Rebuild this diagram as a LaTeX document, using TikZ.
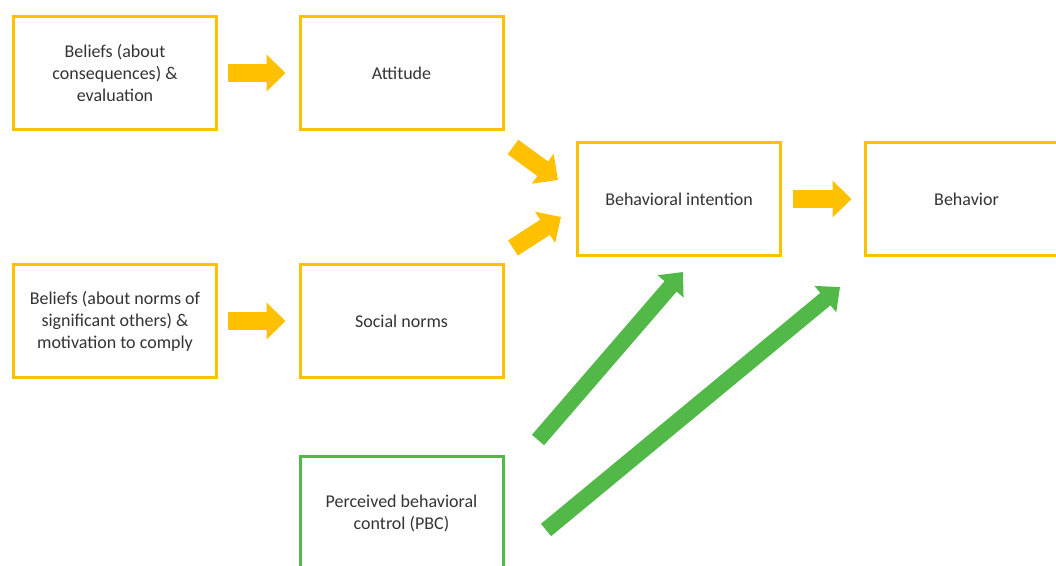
\documentclass[tikz,border=0pt]{standalone}
\usepackage{fontspec}
\setmainfont{Carlito}
\usetikzlibrary{arrows.meta}
\definecolor{gold}{HTML}{FFC000}
\definecolor{leaf}{HTML}{52B848}
\begin{document}
\begin{tikzpicture}[x=1pt,y=-1pt,
  box/.style={draw=gold, line width=3pt, minimum width=203pt, minimum height=113pt,
    inner sep=0pt, align=center, font=\fontsize{18}{22}\selectfont, text=black!80},
  pbcbox/.style={box, draw=leaf},
  fatarrow/.style={draw=gold, line width=18pt, -{Triangle[width=36pt,length=19pt]}},
  greenarrow/.style={draw=leaf, line width=16pt, -{Triangle[width=33pt,length=19pt]}}]
\useasboundingbox (0,0) rectangle (1056,565);
\clip (0,0) rectangle (1056,565);

% boxes
\node[box] (b1) at (115,73) {Beliefs (about\\consequences) \&\\evaluation};
\node[box] (att) at (401.5,73) {Attitude};
\node[box] (b2) at (115,321) {Beliefs (about norms of\\significant others) \&\\motivation to comply};
\node[box] (sn) at (401.5,321) {Social norms};
\node[box] (bi) at (679,199) {Behavioral intention};
\node[box] (beh) at (966.5,199) {Behavior};
\node[pbcbox] (pbc) at (401.5,513) {Perceived behavioral\\control (PBC)};

% ends of the diagonal arrows
\coordinate (attout) at (513,147);
\coordinate (biin1) at (558,180);
\coordinate (snout) at (513,248);
\coordinate (biin2) at (561,217);
\coordinate (pbcout1) at (538,440);
\coordinate (biin3) at (683,272);
\coordinate (pbcout2) at (546,530);
\coordinate (behin) at (840,287);

% yellow block arrows
\draw[fatarrow, shorten <=10pt, shorten >=13pt] (b1.east) -- (att.west);
\draw[fatarrow, shorten <=10pt, shorten >=13pt] (b2.east) -- (sn.west);
\draw[fatarrow, shorten <=11pt, shorten >=12pt] (bi.east) -- (beh.west);
\draw[fatarrow] (attout) -- (biin1);
\draw[fatarrow] (snout) -- (biin2);

% green block arrows
\draw[greenarrow] (pbcout1) -- (biin3);
\draw[greenarrow] (pbcout2) -- (behin);
\end{tikzpicture}
\end{document}
